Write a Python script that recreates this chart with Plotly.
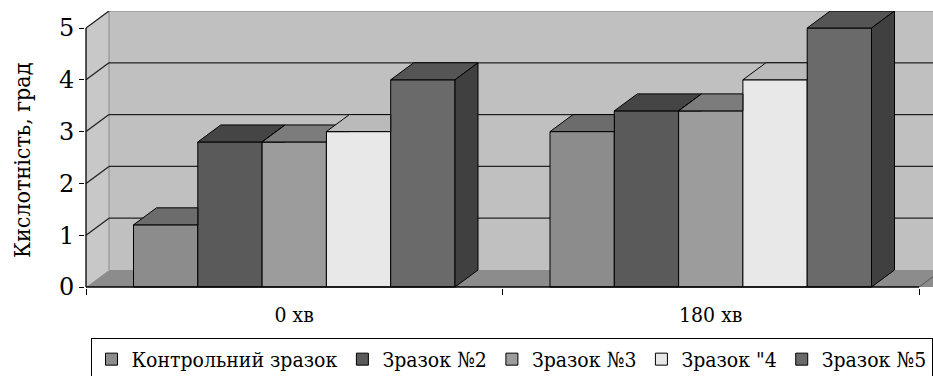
import plotly.graph_objects as go

# ---------------- data ----------------
categories = ["0 хв", "180 хв"]
series_names = ["Контрольний зразок", "Зразок №2", "Зразок №3", "Зразок \"4", "Зразок №5"]
control = [1.2, 3.0]
sample2 = [2.8, 3.4]
sample3 = [2.8, 3.4]
sample4 = [3.0, 4.0]
sample5 = [4.0, 5.0]
y_ticks = [0, 1, 2, 3, 4, 5]
y_title = "Кислотність, град"

series_values = [control, sample2, sample3, sample4, sample5]

# ---------------- style ----------------
front_colors = ["#8c8c8c", "#5a5a5a", "#9c9c9c", "#e8e8e8", "#6a6a6a"]
top_colors = ["#6c6c6c", "#454545", "#7c7c7c", "#bababa", "#555555"]
side_colors = ["#555555", "#333333", "#666666", "#a0a0a0", "#404040"]
WALL_BACK = "#c0c0c0"
WALL_LEFT = "#c8c8c8"
FLOOR = "#8c8c8c"
FONT = "DejaVu Serif"
FONT_C = "DejaVu Serif Condensed, DejaVu Serif"

W, H = 933, 376
PX_X0, UX = 86.0, 416.5     # pixel of x=0, px per category unit
PX_Y0, UY = 287.0, 51.8     # pixel of y=0, px per value unit
PLOT_L, PLOT_R, PLOT_T, PLOT_B = 85, 933, 11, 288
xr = [(PLOT_L - PX_X0) / UX, (PLOT_R - PX_X0) / UX]
yr = [(PX_Y0 - PLOT_B) / UY, (PX_Y0 - PLOT_T) / UY]
DX = 23 / UX                # depth offset (x)
DY = 17 / UY                # depth offset (y)
BW = 64.3 / UX              # bar width
NB = len(series_values)
GROUP_W = BW * NB
YMAX = max(y_ticks)
NCAT = len(categories)


def clip_above(poly, c):
    """Keep part of polygon with y >= c (Sutherland-Hodgman)."""
    out = []
    n = len(poly)
    for k in range(n):
        p, q = poly[k], poly[(k + 1) % n]
        pin, qin = p[1] >= c, q[1] >= c
        if pin:
            out.append(p)
        if pin != qin:
            t = (c - p[1]) / (q[1] - p[1])
            out.append((p[0] + t * (q[0] - p[0]), c))
    return out


fig = go.Figure()

shapes = []
def path(pts):
    return "M " + " L ".join(f"{x},{y}" for x, y in pts) + " Z"

shapes.append(dict(type="path", xref="x", yref="y", layer="below",
                   path=path([(DX, DY), (xr[1] + 1, DY), (xr[1] + 1, YMAX + DY), (DX, YMAX + DY)]),
                   fillcolor=WALL_BACK, line=dict(width=0)))
shapes.append(dict(type="path", xref="x", yref="y", layer="below",
                   path=path([(0, 0), (DX, DY), (DX, YMAX + DY), (0, YMAX)]),
                   fillcolor=WALL_LEFT, line=dict(width=0)))
shapes.append(dict(type="path", xref="x", yref="y", layer="below",
                   path=path([(0, 0), (DX, DY), (NCAT + DX + 1, DY), (NCAT + 1, 0)]),
                   fillcolor=FLOOR, line=dict(width=0)))
shapes.append(dict(type="line", xref="x", yref="y", layer="below",
                   x0=NCAT, y0=0, x1=NCAT + DX, y1=DY, line=dict(color="#555555", width=1)))
shapes.append(dict(type="line", xref="x", yref="y", layer="below",
                   x0=DX, y0=DY, x1=DX, y1=YMAX + DY, line=dict(color="#8a8a8a", width=1)))
shapes.append(dict(type="line", xref="x", yref="y", layer="below",
                   x0=DX, y0=YMAX + DY, x1=xr[1] + 1, y1=YMAX + DY, line=dict(color="#999999", width=1.5)))
for t in y_ticks[1:]:
    if t < YMAX:
        shapes.append(dict(type="line", xref="x", yref="y", layer="below",
                           x0=DX, y0=t + DY, x1=xr[1] + 1, y1=t + DY,
                           line=dict(color="#222222", width=1.3)))
    shapes.append(dict(type="line", xref="x", yref="y", layer="below",
                       x0=0, y0=t, x1=DX, y1=t + DY, line=dict(color="#222222", width=1.3)))
shapes.append(dict(type="line", xref="x", yref="y", layer="above",
                   x0=0, y0=0, x1=0, y1=YMAX, line=dict(color="#000000", width=1.3)))
shapes.append(dict(type="line", xref="x", yref="y", layer="above",
                   x0=0, y0=0, x1=NCAT, y1=0, line=dict(color="#000000", width=1.3)))

x_centers = [g + 0.5 for g in range(NCAT)]
for i, (name, vals) in enumerate(zip(series_names, series_values)):
    fig.add_trace(go.Bar(
        x=x_centers, y=vals, name=name,
        width=BW, offset=-GROUP_W / 2 + i * BW,
        marker=dict(color=front_colors[i], line=dict(color="#000000", width=1)),
        hoverinfo="name+y",
    ))

for i, vals in enumerate(series_values):
    tx, ty, sx, sy = [], [], [], []
    for g, v in enumerate(vals):
        l = g + 0.5 - GROUP_W / 2 + i * BW
        r = l + BW
        c = series_values[i + 1][g] if i + 1 < NB else None
        if c is None or c <= v:
            top = [(l, v), (r, v), (r + DX, v + DY), (l + DX, v + DY)]
        elif c >= v + DY:
            top = [(l, v), (r, v), (r, v + DY), (l + DX, v + DY)]
        else:
            xc = r + DX * (c - v) / DY
            top = [(l, v), (r, v), (r, c), (xc, c), (r + DX, v + DY), (l + DX, v + DY)]
        side = [(r, 0), (r + DX, DY), (r + DX, v + DY), (r, v)]
        if c is not None:
            side = clip_above(side, c)
        for px, py in top + [top[0]]:
            tx.append(px); ty.append(py)
        tx.append(None); ty.append(None)
        if len(side) >= 3:
            for px, py in side + [side[0]]:
                sx.append(px); sy.append(py)
            sx.append(None); sy.append(None)
    fig.add_trace(go.Scatter(x=tx, y=ty, mode="lines", fill="toself",
                             fillcolor=top_colors[i], line=dict(color="#000000", width=1),
                             showlegend=False, hoverinfo="skip"))
    if sx:
        fig.add_trace(go.Scatter(x=sx, y=sy, mode="lines", fill="toself",
                                 fillcolor=side_colors[i], line=dict(color="#000000", width=1),
                                 showlegend=False, hoverinfo="skip"))

fig.update_layout(
    width=W, height=H,
    margin=dict(l=PLOT_L, r=W - PLOT_R, t=PLOT_T, b=H - PLOT_B, pad=0, autoexpand=False),
    paper_bgcolor="#ffffff", plot_bgcolor="#ffffff",
    barmode="overlay",
    shapes=shapes,
    font=dict(family=FONT, color="#000000"),
    xaxis=dict(range=xr, showgrid=False, zeroline=False, showline=False, automargin=False,
               tickmode="array", tickvals=x_centers, ticktext=categories, ticks="",
               tickfont=dict(family=FONT_C, size=21, color="#000000"),
               minor=dict(tickmode="array", tickvals=[0, 1, 2], ticks="outside",
                          ticklen=6, tickcolor="#000000", tickwidth=1, showgrid=False),
               ticklabelstandoff=12, fixedrange=True),
    yaxis=dict(range=yr, showgrid=False, zeroline=False, showline=False, automargin=False,
               tickmode="array", tickvals=y_ticks, ticks="outside", ticklen=5,
               tickcolor="#000000", tickwidth=1.3,
               tickfont=dict(family=FONT, size=24, color="#000000"),
               fixedrange=True),
    annotations=[dict(text=y_title, textangle=-90, showarrow=False,
                      xref="paper", yref="paper",
                      x=(22 - PLOT_L) / (PLOT_R - PLOT_L), xanchor="center",
                      y=(PLOT_B - 161) / (PLOT_B - PLOT_T), yanchor="middle",
                      font=dict(family=FONT_C, size=23, color="#000000"))],
    legend=dict(orientation="h", x=(101 + 922) / 2 / W, xanchor="center", xref="container",
                yref="container", y=(H - 338) / H, yanchor="top",
                bordercolor="#000000", borderwidth=1, bgcolor="#ffffff",
                font=dict(family=FONT_C, size=21, color="#000000"),
                itemwidth=30, tracegroupgap=0),
)

fig.write_html("out.html", post_script="document.body.style.margin='0px';",
               config={"displayModeBar": False})
